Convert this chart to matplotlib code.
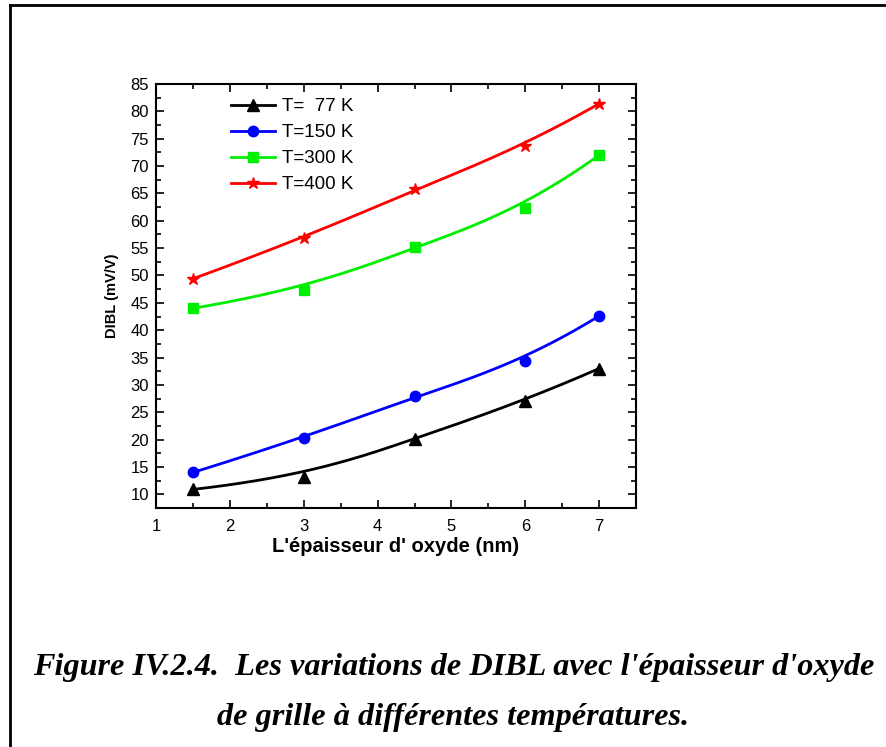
import numpy as np
import matplotlib
matplotlib.use("Agg")
import matplotlib.pyplot as plt
from matplotlib.ticker import MultipleLocator
from matplotlib.lines import Line2D

# Oxide thickness (nm) and DIBL (mV/V) for each temperature
thickness = [1.5, 3, 4.5, 6, 7]
dibl_77 = [10.9, 13.2, 20.2, 27.1, 33.0]
dibl_150 = [14.0, 20.3, 28.0, 34.3, 42.6]
dibl_300 = [44.0, 47.4, 55.2, 62.3, 72.0]
dibl_400 = [49.4, 56.8, 65.8, 73.7, 81.4]

labels = ["T=  77 K", "T=150 K", "T=300 K", "T=400 K"]
colors = ["black", "#0000ff", "#00ee00", "#ff0000"]
markers = ["^", "o", "s", "*"]
msizes = [8, 7.5, 7, 9]
series = [dibl_77, dibl_150, dibl_300, dibl_400]


def bspline_curve(px, py, n=300, k=3):
    """Clamped B-spline using the data points as control points."""
    px, py = np.asarray(px, float), np.asarray(py, float)
    m = len(px)
    inner = np.linspace(0, 1, m - k + 1)[1:-1]
    t = np.concatenate([np.zeros(k + 1), inner, np.ones(k + 1)])
    u = np.linspace(0, 1, n)
    u[-1] -= 1e-10

    def basis(i, p, uu):
        if p == 0:
            return np.where((t[i] <= uu) & (uu < t[i + 1]), 1.0, 0.0)
        out = np.zeros_like(uu)
        d1 = t[i + p] - t[i]
        d2 = t[i + p + 1] - t[i + 1]
        if d1 > 0:
            out += (uu - t[i]) / d1 * basis(i, p - 1, uu)
        if d2 > 0:
            out += (t[i + p + 1] - uu) / d2 * basis(i + 1, p - 1, uu)
        return out

    B = np.array([basis(i, k, u) for i in range(m)])
    return B.T @ px, B.T @ py


plt.rcParams["font.family"] = ["Liberation Sans", "DejaVu Sans"]

fig = plt.figure(figsize=(8.87, 7.47), dpi=100)
ax = fig.add_axes([0.1759, 0.3199, 0.5412, 0.5677])

handles = []
for y, c, m, ms, lab in zip(series, colors, markers, msizes, labels):
    cx, cy = bspline_curve(thickness, y)
    ax.plot(cx, cy, color=c, lw=2, zorder=2)
    ax.plot(thickness, y, linestyle="none", marker=m, color=c, ms=ms, zorder=3)
    handles.append(Line2D([], [], color=c, lw=2, marker=m, ms=ms, label=lab))

ax.set_xlim(1, 7.5)
ax.set_ylim(7.5, 85)
ax.xaxis.set_major_locator(MultipleLocator(1))
ax.xaxis.set_minor_locator(MultipleLocator(0.5))
ax.yaxis.set_major_locator(MultipleLocator(5))
ax.yaxis.set_minor_locator(MultipleLocator(2.5))
ax.tick_params(which="both", direction="in", top=True, right=True,
               width=1.2, labelsize=12)
ax.tick_params(which="major", length=6)
ax.tick_params(which="minor", length=3.5)
ax.tick_params(axis="x", pad=8)
ax.tick_params(axis="y", pad=5)
for s in ax.spines.values():
    s.set_linewidth(1.5)

ax.set_xlabel("L'épaisseur d' oxyde (nm)", fontsize=14.5, fontweight="bold",
              labelpad=2)
ax.set_ylabel("DIBL (mV/V)", fontsize=10.5, fontweight="bold", labelpad=8)

ax.legend(handles=handles, loc="upper left", bbox_to_anchor=(0.122, 1.006),
          frameon=False, fontsize=13.5, handlelength=2.3, handletextpad=0.4,
          labelspacing=0.47)

# Page frame around the figure
fig.add_artist(Line2D([0.0113, 0.0113], [0.0, 0.9933], color="black", lw=2,
                      transform=fig.transFigure))
fig.add_artist(Line2D([0.0113, 1.0], [0.9933, 0.9933], color="black", lw=2,
                      transform=fig.transFigure))

cap = dict(family=["Liberation Serif", "DejaVu Serif"], style="italic",
           weight="bold", fontsize=23.2, ha="center", va="center")
fig.text(0.511, 1 - 668 / 747,
         "Figure IV.2.4.  Les variations de DIBL avec l'épaisseur d'oxyde", **cap)
fig.text(0.511, 1 - 717 / 747, "de grille à différentes températures.", **cap)

fig.savefig("out.png", dpi=100)
